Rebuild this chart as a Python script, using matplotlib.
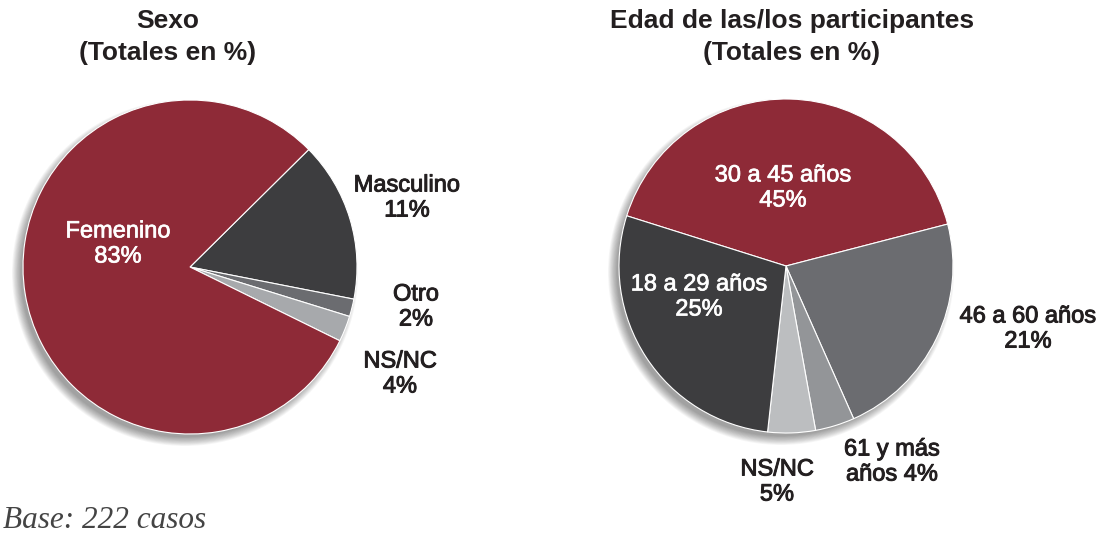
import matplotlib
matplotlib.use("Agg")
import matplotlib.pyplot as plt
from matplotlib.patches import Circle
import matplotlib.patheffects as pe

# ---- data ----
sexo_labels = ["Masculino", "Otro", "NS/NC", "Femenino"]
sexo_pct_text = ["11%", "2%", "4%", "83%"]
sexo_sizes = [15.5, 1.7, 2.5, 80.3]          # slice sizes as drawn
sexo_colors = ["#3d3d3f", "#6b6c70", "#a7a9ac", "#8e2a37"]

edad_labels = ["30 a 45 años", "46 a 60 años", "61 y más\naños", "NS/NC", "18 a 29 años"]
edad_pct_text = ["45%", "21%", "4%", "5%", "25%"]
edad_sizes = [41.1, 22.4, 3.8, 4.6, 28.1]    # slice sizes as drawn
edad_colors = ["#8e2a37", "#6b6c70", "#939598", "#bcbec0", "#3d3d3f"]

W, H = 1101, 533
fig = plt.figure(figsize=(W / 100, H / 100), dpi=100)
ax = fig.add_axes([0, 0, 1, 1])

FONT = ["Liberation Sans", "DejaVu Sans"]

def shadow(cx, cy, r):
    for i in range(12):
        ax.add_patch(Circle((cx - 5, cy - 6), r + 6 - i * 0.8, color="black",
                            alpha=0.035, lw=0, zorder=0))

def Y(ypx):
    return H - ypx

# left pie
c1 = (190, Y(267)); r1 = 167
shadow(*c1, r1)
ax.pie(sexo_sizes, colors=sexo_colors, startangle=44.7, counterclock=False,
       center=c1, radius=r1, wedgeprops=dict(edgecolor="white", linewidth=0.8))

# right pie
c2 = (786, Y(266)); r2 = 167
shadow(*c2, r2)
ax.pie(edad_sizes, colors=edad_colors, startangle=162.5, counterclock=False,
       center=c2, radius=r2, wedgeprops=dict(edgecolor="white", linewidth=0.8))

ax.set_xlim(0, W)
ax.set_ylim(0, H)
ax.set_aspect("auto")
ax.axis("off")

dark = "#231f20"
lkw = dict(fontfamily=FONT, fontweight="normal", ha="center", va="center",
           linespacing=1.18, fontsize=17)

def label(x, y, txt, color, sw=0.7):
    ax.text(x, Y(y), txt, color=color,
            path_effects=[pe.withStroke(linewidth=sw, foreground=color)], **lkw)

# left labels
label(118, 244, f"{sexo_labels[3]}\n{sexo_pct_text[3]}", "white", 0.5)
label(407, 198, f"{sexo_labels[0]}\n{sexo_pct_text[0]}", dark)
label(416, 307, f"{sexo_labels[1]}\n{sexo_pct_text[1]}", dark)
label(400, 374, f"{sexo_labels[2]}\n{sexo_pct_text[2]}", dark)

# right labels
label(783, 188, f"{edad_labels[0]}\n{edad_pct_text[0]}", "white", 0.5)
label(699, 297, f"{edad_labels[4]}\n{edad_pct_text[4]}", "white", 0.5)
label(1028, 329, f"{edad_labels[1]}\n{edad_pct_text[1]}", dark)
label(892, 462, f"{edad_labels[2]} {edad_pct_text[2]}", dark)
label(777, 482, f"{edad_labels[3]}\n{edad_pct_text[3]}", dark)

# titles
tkw = dict(fontfamily=FONT, fontweight="bold", ha="center", va="center",
           linespacing=1.45, fontsize=19)
ax.text(168, Y(37), "Sexo\n(Totales en %)", color=dark, **tkw)
ax.text(792, Y(37), "Edad de las/los participantes\n(Totales en %)", color=dark, **tkw)

# base
ax.text(3, Y(520), "Base: 222 casos", fontfamily=["Liberation Serif", "DejaVu Serif"],
        fontstyle="italic", fontsize=22.5, color="#444444", ha="left", va="center")

fig.savefig("out.png", dpi=100, facecolor="white")
